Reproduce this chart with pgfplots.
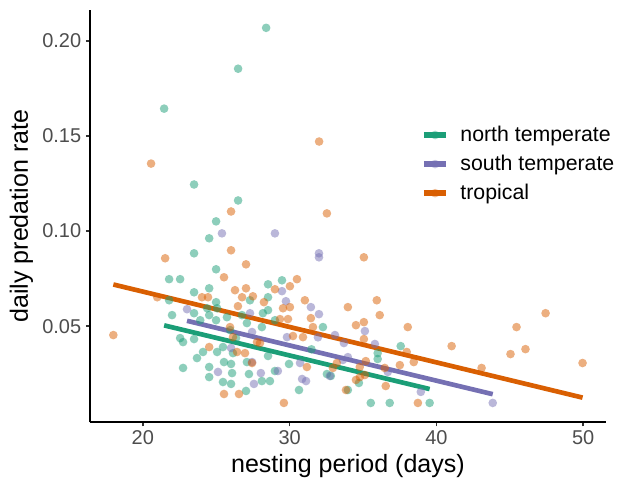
\documentclass[border=0pt]{standalone}
\usepackage{fontspec}
\setmainfont{Liberation Sans}
\usepackage{pgfplots}
\pgfplotsset{compat=1.18}
\definecolor{cN}{HTML}{1B9E77}
\definecolor{cS}{HTML}{7570B3}
\definecolor{cT}{HTML}{D95F02}
\definecolor{tickgrey}{HTML}{4D4D4D}
\definecolor{tickmark}{HTML}{333333}

\pgfplotstableread{
x y
28.40 0.2069
26.49 0.1854
21.45 0.1644
23.49 0.1245
26.49 0.1161
24.99 0.1051
24.52 0.0962
23.49 0.0883
24.99 0.0799
21.79 0.0747
22.54 0.0747
28.53 0.0720
29.48 0.0741
24.52 0.0699
23.49 0.0678
21.79 0.0636
24.99 0.0626
27.30 0.0636
28.53 0.0652
23.49 0.0568
21.99 0.0558
24.38 0.0594
25.06 0.0594
28.53 0.0584
25.73 0.0547
24.99 0.0531
24.52 0.0558
26.75 0.0558
27.09 0.0516
28.18 0.0568
28.11 0.0495
29.00 0.0531
22.54 0.0437
22.74 0.0416
23.49 0.0432
24.10 0.0364
23.69 0.0332
25.06 0.0364
25.46 0.0390
25.53 0.0311
26.01 0.0301
26.14 0.0358
27.09 0.0311
28.53 0.0343
29.96 0.0301
22.74 0.0280
24.52 0.0285
24.52 0.0232
26.08 0.0253
27.23 0.0248
25.46 0.0206
26.01 0.0196
28.11 0.0211
28.66 0.0211
29.00 0.0264
27.03 0.0159
30.64 0.0164
32.27 0.0495
37.57 0.0395
36.00 0.0358
36.00 0.0327
32.54 0.0248
32.81 0.0238
34.72 0.0201
33.97 0.0164
35.53 0.0096
36.82 0.0096
39.54 0.0096
31.49 0.0378
23.91 0.0531
25.95 0.0479
26.35 0.0437
}\north

\pgfplotstableread{
x y
25.39 0.0988
29.00 0.0988
32.00 0.0883
32.00 0.0862
29.48 0.0684
29.75 0.0631
23.01 0.0589
27.30 0.0568
31.45 0.0600
32.00 0.0563
27.44 0.0469
29.82 0.0442
33.09 0.0453
33.70 0.0411
35.13 0.0474
35.81 0.0406
26.01 0.0385
27.44 0.0311
25.12 0.0259
28.04 0.0253
29.20 0.0264
27.57 0.0196
30.71 0.0306
33.97 0.0337
33.63 0.0322
30.85 0.0222
31.12 0.0211
36.69 0.0259
38.94 0.0154
43.84 0.0096
31.93 0.0441
32.74 0.0238
}\south

\pgfplotstableread{
x y
32.01 0.1471
20.56 0.1355
26.01 0.1103
32.54 0.1093
26.01 0.0899
21.52 0.0857
27.03 0.0825
35.06 0.0862
25.53 0.0757
30.50 0.0747
26.28 0.0689
27.03 0.0699
29.00 0.0694
30.02 0.0710
20.98 0.0652
24.03 0.0652
24.44 0.0652
26.76 0.0652
27.50 0.0657
28.25 0.0626
26.48 0.0605
29.55 0.0594
30.02 0.0600
31.04 0.0636
35.94 0.0636
33.97 0.0600
31.45 0.0542
29.34 0.0537
29.89 0.0537
36.14 0.0558
35.06 0.0521
34.52 0.0505
31.59 0.0495
30.91 0.0442
38.05 0.0495
35.06 0.0432
30.23 0.0448
25.94 0.0495
26.14 0.0442
27.78 0.0416
27.98 0.0411
24.52 0.0390
26.42 0.0364
26.96 0.0358
27.44 0.0306
37.98 0.0364
38.46 0.0311
37.51 0.0295
35.19 0.0316
34.78 0.0285
33.22 0.0306
32.95 0.0280
31.18 0.0285
36.48 0.0280
34.52 0.0217
34.79 0.0232
33.84 0.0164
36.55 0.0185
25.53 0.0143
26.55 0.0143
29.61 0.0096
38.74 0.0096
17.99 0.0453
47.44 0.0568
45.46 0.0495
41.04 0.0395
46.07 0.0379
45.05 0.0353
43.08 0.0280
49.96 0.0306
35.13 0.0243
}\tropical

\begin{document}
\begin{tikzpicture}
\begin{axis}[
  scale only axis, width=387.75pt, height=309.75pt,
  xmin=16.39, xmax=51.56, ymin=-0.0006, ymax=0.2163,
  axis lines=left, axis line style={line width=1.4pt, -},
  xtick={20,30,40,50}, ytick={0.05,0.10,0.15,0.20},
  yticklabels={0.05,0.10,0.15,0.20},
  tick align=outside, major tick length=3pt,
  tick style={line width=1.1pt, color=tickmark},
  ticklabel style={font=\fontsize{15}{18}\selectfont, color=tickgrey},
  /pgf/number format/assume math mode=true,
  xlabel={nesting period (days)}, ylabel={daily predation rate},
  label style={font=\fontsize{18.8}{22}\selectfont},
  legend cell align=left,
  legend style={at={(rel axis cs:0.64,0.725)}, anchor=north west, draw=none, fill=none,
    font=\fontsize{16}{19}\selectfont, row sep=4.75pt, inner sep=0pt},
  legend image code/.code={
    \fill[#1, draw=none, opacity=0.4] (8.5pt,0pt) circle (3.25pt);
    \draw[#1, line width=5pt] (0pt,0pt) -- (17pt,0pt);},
  /tikz/every odd column/.append style={column sep=6pt},
]
\coordinate (SW) at (rel axis cs:0,0);
\addplot[only marks, mark=*, mark size=3.25pt, color=cN, fill=cN, draw opacity=0, fill opacity=0.5, mark options={draw opacity=0, fill opacity=0.5}, forget plot] table {\north};
\addplot[only marks, mark=*, mark size=3.25pt, color=cS, fill=cS, draw opacity=0, fill opacity=0.5, mark options={draw opacity=0, fill opacity=0.5}, forget plot] table {\south};
\addplot[only marks, mark=*, mark size=3.25pt, color=cT, fill=cT, draw opacity=0, fill opacity=0.5, mark options={draw opacity=0, fill opacity=0.5}, forget plot] table {\tropical};
\addplot[cN, line width=3.5pt] coordinates {(21.45,0.0504) (39.54,0.0169)};
\addlegendentry{north temperate}
\addplot[cS, line width=3.5pt] coordinates {(23.01,0.0528) (43.84,0.0142)};
\addlegendentry{south temperate}
\addplot[cT, line width=3.5pt] coordinates {(17.99,0.0719) (49.96,0.0124)};
\addlegendentry{tropical}
\end{axis}
\path (SW) ++(-67.5pt,-45.75pt) rectangle ++(462.75pt,363pt);
\end{tikzpicture}
\end{document}
